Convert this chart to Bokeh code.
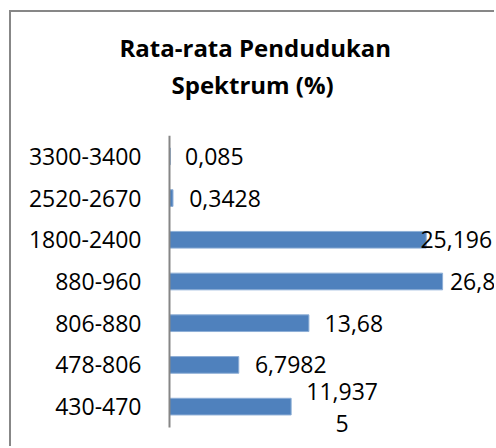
from bokeh.plotting import figure
from bokeh.models import ColumnDataSource, Range1d, FixedTicker, Title
from bokeh.core.properties import value
from bokeh.embed import file_html
from bokeh.resources import INLINE

categories = ["430-470", "478-806", "806-880", "880-960", "1800-2400", "2520-2670", "3300-3400"]
values = [11.9375, 6.7982, 13.68, 26.8, 25.196, 0.3428, 0.085]
value_labels = ["11,937\n5", "6,7982", "13,68", "26,8", "25,196", "0,3428", "0,085"]
title_lines = ["Rata-rata Pendudukan", "Spektrum (%)"]
label_dx = [51, 52, 45, 30, 30, 52, 44]

FONT = "Open Sans"
n = len(categories)
ypos = list(range(n))

source = ColumnDataSource(dict(y=ypos, val=values, lab=value_labels, dx=label_dx))

p = figure(width=485, height=436,
           y_range=Range1d(-1.004, n - 0.5),
           x_range=Range1d(-0.196, 32.09),
           output_backend="svg", toolbar_location=None,
           min_border_left=156, min_border_top=123,
           min_border_right=0, min_border_bottom=0)
p.styles = {"border-left": "2px solid #878787", "border-top": "2px solid #878787",
            "margin-left": "9px", "margin-top": "10px"}

p.hbar(y="y", left=0, right="val", height=0.4, source=source,
       fill_color="#4F81BD", line_color="#8DAED6", line_width=1)

# category axis line
p.segment(x0=0, y0=-0.5, x1=0, y1=n - 0.5, line_color="#868686", line_width=2)

p.text(x="val", y="y", text="lab", x_offset="dx", source=source,
       text_align="center", text_baseline="middle",
       text_font=value(FONT), text_font_size=value("23px"), text_color="#000000",
       text_line_height=1.0)

# spacer between plot area and title
p.add_layout(Title(text=" ", text_font_size="1px", standoff=31), "above")
p.add_layout(Title(text=title_lines[1], align="left", offset=4, standoff=2,
                   text_font=FONT, text_font_size="24px", text_font_style="bold",
                   text_color="#000000"), "above")
p.add_layout(Title(text=title_lines[0], align="left", offset=-48, standoff=1,
                   text_font=FONT, text_font_size="24px", text_font_style="bold",
                   text_color="#000000"), "above")

p.xaxis.visible = False
p.grid.visible = False
p.outline_line_color = None
p.yaxis.ticker = FixedTicker(ticks=ypos)
p.yaxis.major_label_overrides = {i: c for i, c in enumerate(categories)}
p.yaxis.axis_line_color = None
p.yaxis.major_tick_line_color = None
p.yaxis.minor_tick_line_color = None
p.yaxis.major_label_standoff = 20
p.yaxis.major_label_text_font = FONT
p.yaxis.major_label_text_font_size = "23px"
p.yaxis.major_label_text_color = "#000000"

open("out.html", "w").write(file_html(p, INLINE))
